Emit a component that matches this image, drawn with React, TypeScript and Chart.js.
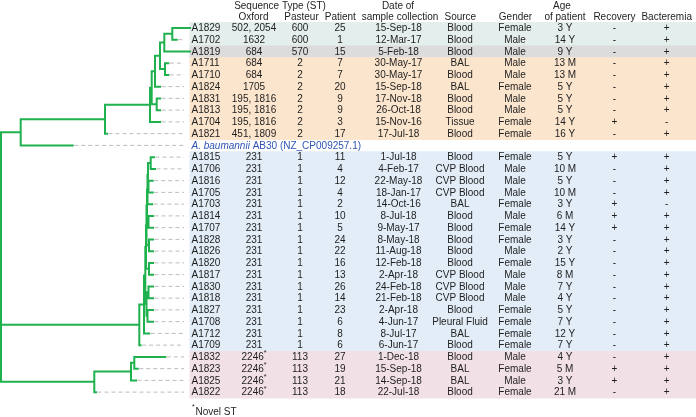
import { useEffect, useRef } from "react";
import { Chart, registerables } from "chart.js";

Chart.register(...registerables);

// ---------------- DATA ----------------
// Phylogeny (branch lengths, arbitrary distance units)
const TREE_NEWICK =
  "(" +
  "((((((((((A1829:0.0177,A1702:0.0044):0.008,A1819:0.0257):0.0043,(A1711:0.0033,A1710:0.0033):0.005):0.005,A1824:0.005):0.0033," +
  "(A1831:0.0033,A1813:0.0033):0.005):0.0017,A1704:0.010):0.045,A1821:0.002):0.0843,AB30:0.052):0.0197," +
  "((((((((((A1815:0.0033,A1706:0.0043):0.0027,(A1816:0.0042,A1705:0.0042):0.0005):0.0005,A1703:0.0045):0.0005," +
  "(A1814:0.0045,A1707:0.0045):0.0015):0.0005,(A1828:0.004,A1826:0.004):0.0025):0.0005,(A1820:0.004,A1817:0.004):0.003):0.0007," +
  "((A1830:0.0045,A1818:0.0045):0.002,(A1827:0.0055,A1708:0.0055):0.001):0.0012):0.0013,A1712:0.0053):0.0047,A1709:0.0012):0.1383," +
  "(((A1832:0.031,A1823:0.0034):0.0033,A1825:0.005):0.0367,A1822:0.0017):0.0933" +
  ");";

const ISOLATES = [
  "A1829", "A1702", "A1819", "A1711", "A1710", "A1824", "A1831", "A1813", "A1704", "A1821",
  "AB30",
  "A1815", "A1706", "A1816", "A1705", "A1703", "A1814", "A1707", "A1828", "A1826", "A1820",
  "A1817", "A1830", "A1818", "A1827", "A1708", "A1712", "A1709",
  "A1832", "A1823", "A1825", "A1822",
];
const REFERENCE_SPECIES = "A. baumannii";
const REFERENCE_STRAIN = " AB30 (NZ_CP009257.1)";

const OXFORD_ST = [
  "502, 2054", "1632", "684", "684", "684", "1705", "195, 1816", "195, 1816", "195, 1816", "451, 1809",
  "",
  "231", "231", "231", "231", "231", "231", "231", "231", "231", "231", "231", "231", "231", "231", "231", "231", "231",
  "2246*", "2246*", "2246*", "2246*",
];
const PASTEUR_ST = [
  "600", "600", "570", "2", "2", "2", "2", "2", "2", "2",
  "",
  "1", "1", "1", "1", "1", "1", "1", "1", "1", "1", "1", "1", "1", "1", "1", "1", "1",
  "113", "113", "113", "113",
];
const PATIENT = [
  "25", "1", "15", "7", "7", "20", "9", "9", "3", "17",
  "",
  "11", "4", "12", "4", "2", "10", "5", "24", "22", "16", "13", "26", "14", "23", "6", "8", "6",
  "27", "19", "21", "18",
];
const SAMPLE_DATE = [
  "15-Sep-18", "12-Mar-17", "5-Feb-18", "30-May-17", "30-May-17", "15-Sep-18", "17-Nov-18", "26-Oct-18", "15-Nov-16", "17-Jul-18",
  "",
  "1-Jul-18", "4-Feb-17", "22-May-18", "18-Jan-17", "14-Oct-16", "8-Jul-18", "9-May-17", "8-May-18", "11-Aug-18", "12-Feb-18",
  "2-Apr-18", "24-Feb-18", "21-Feb-18", "2-Apr-18", "4-Jun-17", "8-Jul-17", "6-Jun-17",
  "1-Dec-18", "15-Sep-18", "14-Sep-18", "22-Jul-18",
];
const SOURCE = [
  "Blood", "Blood", "Blood", "BAL", "Blood", "BAL", "Blood", "Blood", "Tissue", "Blood",
  "",
  "Blood", "CVP Blood", "CVP Blood", "CVP Blood", "BAL", "Blood", "Blood", "Blood", "Blood", "Blood",
  "CVP Blood", "CVP Blood", "CVP Blood", "Blood", "Pleural Fluid", "BAL", "Blood",
  "Blood", "BAL", "BAL", "Blood",
];
const GENDER = [
  "Female", "Male", "Male", "Male", "Male", "Female", "Male", "Male", "Female", "Female",
  "",
  "Female", "Male", "Male", "Male", "Female", "Male", "Female", "Female", "Male", "Female",
  "Male", "Male", "Male", "Female", "Female", "Female", "Female",
  "Male", "Female", "Male", "Female",
];
const AGE = [
  "3 Y", "14 Y", "9 Y", "13 M", "13 M", "5 Y", "5 Y", "5 Y", "14 Y", "16 Y",
  "",
  "5 Y", "10 M", "5 Y", "10 M", "3 Y", "6 M", "14 Y", "3 Y", "2 Y", "15 Y",
  "8 M", "7 Y", "4 Y", "5 Y", "7 Y", "12 Y", "7 Y",
  "4 Y", "5 M", "3 Y", "21 M",
];
const RECOVERY = [
  "-", "-", "-", "-", "-", "-", "-", "-", "+", "-",
  "",
  "+", "-", "-", "-", "+", "+", "+", "-", "-", "-", "-", "-", "-", "-", "-", "-", "-",
  "-", "+", "+", "-",
];
const BACTEREMIA = [
  "+", "+", "+", "+", "+", "+", "+", "+", "-", "+",
  "",
  "+", "+", "+", "+", "-", "+", "+", "+", "+", "+", "+", "+", "+", "+", "+", "+", "+",
  "+", "+", "+", "+",
];
const HEADER_TOP = ["Sequence Type (ST)", "Date of", "Age"];
const HEADER_BOTTOM = ["Oxford", "Pasteur", "Patient", "sample collection", "Source", "Gender", "of patient", "Recovery", "Bacteremia"];
const FOOTNOTE = "Novel ST";

// ---------------- LAYOUT / STYLE ----------------
const W = 696;
const H = 417;
const TREE_LEFT = 1;
const TREE_RIGHT = 190;
const X_MAX = 0.189;
const LEADER_END = 0.183;
const LEADER_GAP = 0.0015;
const BAND_LEFT = 189.5;
const GREEN = "#1fb14e";
const DASH_GREY = "#bcbcbc";
const TEXT = "#1e1e1e";
const REF_BLUE = "#2f55b4";
const FONT = '"Liberation Sans", Arial, sans-serif';
const FONT_SIZE = 10;
const BAND_COLORS: Record<string, string> = {
  "600": "#e4eeec",
  "570": "#dcdcdc",
  "2": "#fbe5cd",
  "1": "#e2edf8",
  "113": "#f2e0e7",
};
const COL_X = [191.5, 254, 300, 340, 398.5, 460, 515, 565, 614.5, 666.7];
const HEADER_TOP_X = [280, 398, 562];
const HEADER_BOTTOM_X = [253.5, 301.5, 340.3, 400, 460.3, 515.5, 565, 614.5, 666.7];
const HEADER_TOP_Y = 6;
const HEADER_BOTTOM_Y = 17;

// ---------------- TREE ----------------
type TNode = { name?: string; len: number; children: TNode[]; depth: number; y: number };

function parseNewick(src: string): TNode {
  const s = src.replace(/\s+/g, "");
  let i = 0;
  const parseNode = (): TNode => {
    const node: TNode = { len: 0, children: [], depth: 0, y: 0 };
    if (s[i] === "(") {
      i++;
      node.children.push(parseNode());
      while (s[i] === ",") {
        i++;
        node.children.push(parseNode());
      }
      i++;
    }
    let name = "";
    while (i < s.length && !",():;".includes(s[i])) name += s[i++];
    if (name) node.name = name;
    if (s[i] === ":") {
      i++;
      let num = "";
      while (i < s.length && !",();".includes(s[i])) num += s[i++];
      node.len = parseFloat(num);
    }
    return node;
  };
  return parseNode();
}

function buildSegments() {
  const root = parseNewick(TREE_NEWICK);
  const place = (n: TNode, parentDepth: number) => {
    n.depth = parentDepth + n.len;
    if (!n.children.length) {
      n.y = ISOLATES.indexOf(n.name || "");
      return;
    }
    n.children.forEach((c) => place(c, n.depth));
    n.y = (n.children[0].y + n.children[n.children.length - 1].y) / 2;
  };
  place(root, 0);
  const solid: { x: number | null; y: number | null }[] = [];
  const dashed: { x: number | null; y: number | null }[] = [];
  const gap = () => ({ x: null, y: null });
  const emit = (n: TNode) => {
    if (n.children.length) {
      const first = n.children[0];
      const last = n.children[n.children.length - 1];
      solid.push({ x: n.depth, y: first.y }, { x: n.depth, y: last.y }, gap());
      n.children.forEach((c) => {
        solid.push({ x: n.depth, y: c.y }, { x: c.depth, y: c.y }, gap());
        emit(c);
      });
    } else if (n.depth + LEADER_GAP < LEADER_END) {
      dashed.push({ x: n.depth + LEADER_GAP, y: n.y }, { x: LEADER_END, y: n.y }, gap());
    }
  };
  emit(root);
  return { solid, dashed };
}

// ---------------- PLUGIN ----------------
const tablePlugin = {
  id: "tablePlugin",
  beforeDatasetsDraw(chart: any) {
    const ctx = chart.ctx;
    const ys = chart.scales.y;
    const half = Math.abs(ys.getPixelForValue(1) - ys.getPixelForValue(0)) / 2;
    ctx.save();
    PASTEUR_ST.forEach((st, i) => {
      const c = BAND_COLORS[st];
      if (!c) return;
      const y = ys.getPixelForValue(i);
      ctx.fillStyle = c;
      ctx.fillRect(BAND_LEFT, y - half, W - BAND_LEFT, half * 2 + 0.5);
    });
    ctx.restore();
  },
  afterDraw(chart: any) {
    const ctx = chart.ctx;
    const ys = chart.scales.y;
    const normal = `${FONT_SIZE}px ${FONT}`;
    const small = `7px ${FONT}`;
    ctx.save();
    ctx.textBaseline = "middle";
    ctx.fillStyle = TEXT;
    ctx.font = normal;
    ctx.textAlign = "center";
    HEADER_TOP.forEach((t, k) => ctx.fillText(t, HEADER_TOP_X[k], HEADER_TOP_Y));
    HEADER_BOTTOM.forEach((t, k) => ctx.fillText(t, HEADER_BOTTOM_X[k], HEADER_BOTTOM_Y));

    const cols = [ISOLATES, OXFORD_ST, PASTEUR_ST, PATIENT, SAMPLE_DATE, SOURCE, GENDER, AGE, RECOVERY, BACTEREMIA];
    ISOLATES.forEach((id, i) => {
      const y = ys.getPixelForValue(i) + 0.5;
      if (id === "AB30") {
        ctx.textAlign = "left";
        ctx.fillStyle = REF_BLUE;
        ctx.font = `italic ${FONT_SIZE}px ${FONT}`;
        ctx.fillText(REFERENCE_SPECIES, COL_X[0], y);
        const w = ctx.measureText(REFERENCE_SPECIES).width;
        ctx.font = normal;
        ctx.fillText(REFERENCE_STRAIN, COL_X[0] + w, y);
        ctx.fillStyle = TEXT;
        return;
      }
      cols.forEach((arr, k) => {
        let txt = arr[i];
        if (!txt) return;
        ctx.font = normal;
        if (k === 0) {
          ctx.textAlign = "left";
          ctx.fillText(txt, COL_X[k], y);
          return;
        }
        const star = txt.endsWith("*");
        if (star) {
          txt = txt.slice(0, -1);
          const w1 = ctx.measureText(txt).width;
          ctx.font = small;
          const w2 = ctx.measureText("*").width;
          const left = COL_X[k] - (w1 + w2) / 2;
          ctx.textAlign = "left";
          ctx.fillText("*", left + w1, y - 4);
          ctx.font = normal;
          ctx.fillText(txt, left, y);
        } else {
          ctx.textAlign = "center";
          ctx.fillText(txt, COL_X[k], y);
        }
      });
    });
    // footnote
    ctx.textAlign = "left";
    ctx.font = small;
    ctx.fillText("*", COL_X[0] + 0.5, 407.5);
    ctx.font = normal;
    ctx.fillText(FOOTNOTE, COL_X[0] + 4, 412);
    ctx.restore();
  },
};

export default function App() {
  const ref = useRef<HTMLCanvasElement | null>(null);
  useEffect(() => {
    document.body.style.margin = "0";
    const canvas = ref.current;
    if (!canvas) return;
    const { solid, dashed } = buildSegments();
    const chart = new Chart(canvas, {
      type: "scatter",
      data: {
        datasets: [
          {
            data: dashed as any,
            showLine: true,
            borderColor: DASH_GREY,
            borderWidth: 1,
            borderDash: [4, 3],
            pointRadius: 0,
            spanGaps: false,
            clip: false as any,
          },
          {
            data: solid as any,
            showLine: true,
            borderColor: GREEN,
            borderWidth: 2,
            borderCapStyle: "square",
            pointRadius: 0,
            spanGaps: false,
            clip: false as any,
          },
        ],
      },
      options: {
        responsive: false,
        animation: false,
        devicePixelRatio: 1,
        layout: { padding: { left: TREE_LEFT, right: W - TREE_RIGHT, top: 22, bottom: 19 } },
        scales: {
          x: { type: "linear", min: 0, max: X_MAX, display: false },
          y: { type: "linear", min: -0.5, max: ISOLATES.length - 0.5, reverse: true, display: false },
        },
        plugins: { legend: { display: false }, tooltip: { enabled: false } },
        events: [],
      },
      plugins: [tablePlugin],
    });
    return () => chart.destroy();
  }, []);
  return <canvas ref={ref} width={W} height={H} style={{ display: "block", width: W, height: H }} />;
}
